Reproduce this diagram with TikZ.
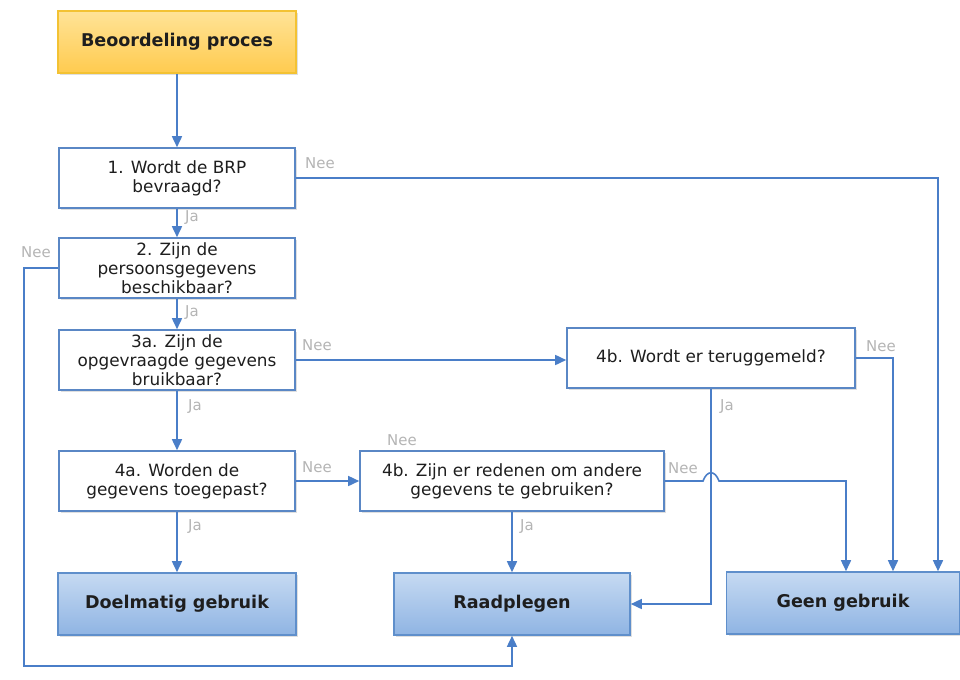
\documentclass[tikz,border=0pt]{standalone}
\usepackage{fontspec}
\setmainfont{DejaVu Sans}
\usetikzlibrary{arrows.meta,calc,shadows}

\definecolor{lijnblauw}{HTML}{4A7EC8}
\definecolor{randblauw}{HTML}{5A87C5}
\definecolor{labelgrijs}{HTML}{B4B4B4}
\definecolor{eindboven}{HTML}{C6DAF2}
\definecolor{eindonder}{HTML}{8FB4E3}
\definecolor{eindrand}{HTML}{5F8FCB}
\definecolor{geelboven}{HTML}{FFE397}
\definecolor{geelonder}{HTML}{FFCB4F}
\definecolor{geelrand}{HTML}{F3C233}
\definecolor{tekst}{HTML}{1E1E1E}

\tikzset{
  schaduw/.style={drop shadow={opacity=0.25, shadow xshift=1.2pt, shadow yshift=-1.2pt}},
  vraag/.style={draw=randblauw, line width=0.9pt, fill=white, schaduw,
    minimum width=47.2mm, minimum height=12mm, inner sep=1pt, align=center,
    text=tekst, font=\fontsize{9.6}{10.8}\selectfont},
  eind/.style={draw=eindrand, line width=0.9pt, top color=eindboven,
    bottom color=eindonder, schaduw, minimum width=47.6mm, minimum height=12.4mm,
    text=tekst, font=\fontsize{10}{12}\selectfont\bfseries},
  start/.style={eind, draw=geelrand, top color=geelboven, bottom color=geelonder},
  pijl/.style={draw=lijnblauw, line width=0.9pt, -{Triangle[length=2.2mm,width=2mm]}},
  keuze/.style={text=labelgrijs, font=\fontsize{8.5}{10}\selectfont, inner sep=0pt}
}

\begin{document}
\begin{tikzpicture}[x=0.2mm, y=-0.2mm]
    \useasboundingbox (0,0) rectangle (960,679);
    %%Vakken
    \node[start] (begin) at (177,42) {Beoordeling proces};
    \node[vraag] (v1) at (177,178) {1. Wordt de BRP\\bevraagd?};
    \node[vraag] (v2) at (177,268) {2. Zijn de\\persoonsgegevens\\beschikbaar?};
    \node[vraag] (v3a) at (177,360) {3a. Zijn de\\opgevraagde gegevens\\bruikbaar?};
    \node[vraag] (v4a) at (177,481) {4a. Worden de\\gegevens toegepast?};
    \node[vraag, minimum width=60.8mm] (redenen) at (512,481) {4b. Zijn er redenen om andere\\gegevens te gebruiken?};
    \node[vraag, minimum width=57.6mm] (terug) at (711,358) {4b. Wordt er teruggemeld?};
    \node[eind] (doel) at (177,604) {Doelmatig gebruik};
    \node[eind, minimum width=47.2mm] (raad) at (512,604) {Raadplegen};
    \node[eind, minimum width=46.6mm] (geen) at (843,603) {Geen gebruik};
    %%Pijlen
    \draw[pijl] (begin) -- (v1);
    \draw[pijl] (v1) -- (v2);
    \draw[pijl] (v2) -- (v3a);
    \draw[pijl] (v3a) -- (v4a);
    \draw[pijl] (v4a) -- (doel);
    \draw[pijl] (v4a) -- (redenen);
    \draw[pijl] (redenen) -- (raad);
    \draw[pijl] (v3a.east) -- (v3a.east -| terug.west);
    \draw[pijl] (v1.east) -| ($(geen.north)+(95,0)$);
    \draw[pijl] (terug.east) -| ($(geen.north)+(50,0)$);
    \draw[pijl] (terug.south) |- (raad.east);
    \draw[pijl] (v2.west) -- ++(-34,0) |- ($(raad.south)+(0,30)$) -- (raad.south);
    %sprong over de lijn van teruggemeld
    \coordinate (sprong) at (terug.south |- redenen.east);
    \draw[pijl] (redenen.east) -- ($(sprong)+(-8,0)$)
      .. controls ($(sprong)+(-4,-11)$) and ($(sprong)+(4,-11)$) .. ($(sprong)+(8,0)$)
      -| ($(geen.north)+(3,0)$);
    %%Ja en Nee
    \node[keuze] (n1) at (320,163) {Nee};
    \node[keuze] (j1) at (192,218) {Ja};
    \node[keuze] (n2) at (36,252) {Nee};
    \node[keuze] (j2) at (192,313) {Ja};
    \node[keuze] (n3a) at (317,345) {Nee};
    \node[keuze] (j3a) at (195,407) {Ja};
    \node[keuze] (nlos) at (402,440) {Nee};
    \node[keuze] (n4a) at (317,467) {Nee};
    \node[keuze] (nred) at (683,468) {Nee};
    \node[keuze] (nterug) at (881,346) {Nee};
    \node[keuze] (jterug) at (727,407) {Ja};
    \node[keuze] (j4a) at (195,527) {Ja};
    \node[keuze] (jred) at (527,527) {Ja};
\end{tikzpicture}
\end{document}
